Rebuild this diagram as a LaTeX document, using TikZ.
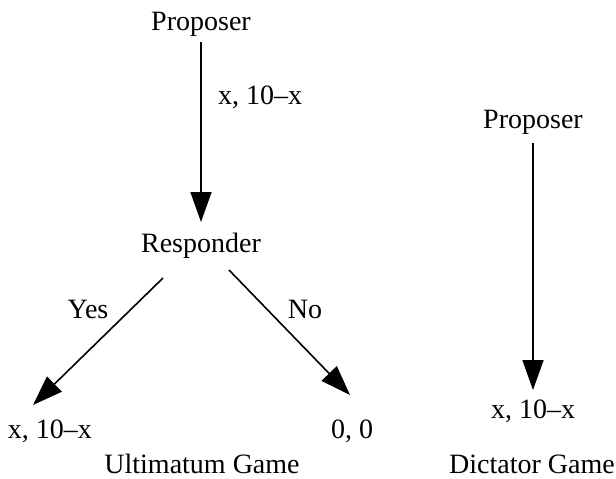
\documentclass[tikz,border=0pt]{standalone}
\usepackage{fontspec}
\setmainfont{Liberation Serif}
\usetikzlibrary{arrows.meta}
\begin{document}
\begin{tikzpicture}[x=1pt,y=-1pt,
  lbl/.style={anchor=base,inner sep=0pt,font=\fontsize{28}{32}\selectfont},
  move/.style={line width=1.6pt,-{Triangle[length=30pt,width=21pt]}}]
\useasboundingbox (0,0) rectangle (616,479);
% Ultimatum game tree
\node[lbl] (propL) at (201,30) {Proposer};
\node[lbl] (resp) at (201,252) {Responder};
\node[lbl,anchor=base west] (offer) at (218,104) {x, 10--x};
\node[lbl] (yes) at (88,318) {Yes};
\node[lbl] (no) at (305,318) {No};
\node[lbl] (payA) at (50,438) {x, 10--x};
\node[lbl] (payB) at (352,438) {0, 0};
\node[lbl] (ult) at (202,473) {Ultimatum Game};
\coordinate (propLout) at (201,42);
\coordinate (respin) at (201,222);
\coordinate (yesS) at (163,278);
\coordinate (yesE) at (33,405);
\coordinate (noS) at (229,270);
\coordinate (noE) at (350,395);
\draw[move] (propLout) -- (respin);
\draw[move] (yesS) -- (yesE);
\draw[move] (noS) -- (noE);
% Dictator game
\node[lbl] (propR) at (533,128) {Proposer};
\node[lbl] (payR) at (533,418) {x, 10--x};
\node[lbl] (dict) at (532,473) {Dictator Game};
\coordinate (propRout) at (533,143);
\coordinate (payRin) at (533,390);
\draw[move] (propRout) -- (payRin);
\end{tikzpicture}
\end{document}
